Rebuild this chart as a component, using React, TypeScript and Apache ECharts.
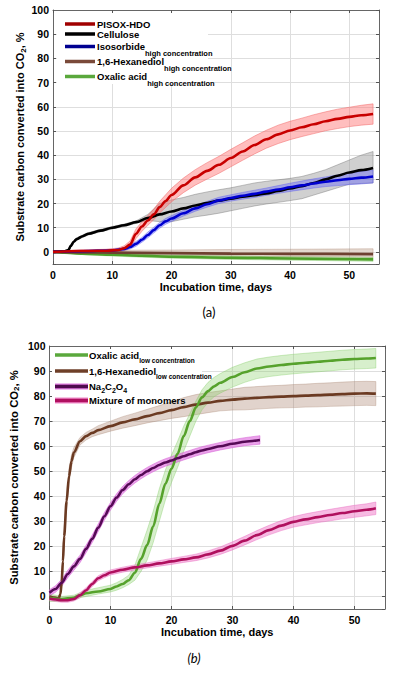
import React, { useEffect, useRef } from "react";
import * as echarts from "echarts";

// ---------------- Panel (a) data ----------------
const pisoxDays = [0,3,6,9,11,12,13,14,15,16,17,18,19,20,22,24,26,28,30,32,34,36,38,40,42,44,46,48,50,52,54];
const pisoxVals = [0,0.3,0.4,0.5,0.8,1.5,3,7.5,10.5,13,15.5,18.5,21,23.5,27.5,30.8,33.5,36,38.8,41.5,44.2,46.6,48.6,50.2,51.5,52.8,54,55,55.8,56.5,57];
const pisoxSpread = [0.3,0.4,0.5,0.6,0.8,1,1.5,2,2,2,2.2,2.4,2.6,2.8,3,3.2,3.4,3.5,3.6,3.6,3.7,3.7,3.8,3.8,3.8,3.9,3.9,4,4,4.1,4.2];

const celluloseDays = [0,2,2.6,3,3.5,4,5,6,8,10,12,14,16,18,20,22,24,26,28,30,32,34,36,38,40,42,44,46,48,50,52,54];
const celluloseVals = [0,0.3,0.8,2.5,4.2,5.3,6.5,7.5,8.8,10,11,12.3,14,15.5,16.7,18,19.2,20.2,21.2,22,22.8,23.4,24.2,25.2,26.2,27.2,28.5,30,31.5,32.8,33.8,34.7];
const celluloseLo = [-0.3,0,0.4,2,3.7,4.8,6,7,8.3,9.5,10.5,11.8,13,12.5,12.5,13.5,14.5,15.2,16,17,18,19,19.8,20.5,21.2,22,23.5,25,26.5,28,28.3,28.5];
const celluloseHi = [0.3,0.6,1.2,3,4.7,5.8,7,8,9.3,10.5,11.5,12.8,15.5,20,21.5,22.5,23.8,24.8,25.7,26.5,27.5,28.5,29.2,29.8,30.4,31.2,32.5,34,36,38,40,41.5];

const isosorbideDays = [0,5,10,12,13,14,15,16,17,18,19,20,22,24,26,28,30,32,34,36,38,40,42,44,46,48,50,52,54];
const isosorbideVals = [0,0.3,0.6,1.2,2,3.3,5,7,9,11,12.6,13.8,16,18,19.7,21.3,22.3,23.2,24,24.9,25.8,26.7,27.5,28.3,29,29.6,30.2,30.7,31.2];
const isosorbideSpread = [0.3,0.4,0.5,0.6,0.8,1,1,1.2,1.2,1.2,1.2,1.2,1.2,1.2,1.2,1.3,1.3,1.4,1.5,1.5,1.6,1.7,1.8,1.9,2,2.2,2.4,2.6,2.7];

const hexHighDays = [0,5,10,20,30,40,54];
const hexHighVals = [0,-0.2,-0.3,-0.5,-0.7,-0.8,-0.9];
const hexHighLo = [-0.3,-1,-1.3,-1.6,-1.8,-2,-2.2];
const hexHighHi = [0.3,0.5,0.7,0.8,1,1.1,1.3];

const oxHighDays = [0,2,5,10,15,20,30,40,54];
const oxHighVals = [0,-0.3,-0.7,-1.2,-1.6,-2,-2.4,-2.7,-3.1];
const oxHighSpread = [0.2,0.3,0.4,0.5,0.6,0.6,0.7,0.7,0.8];

// ---------------- Panel (b) data ----------------
const oxLowDays = [0,2,4,5,6,8,10,11,12,13,14,15,16,17,18,19,20,21,22,23,24,25,26,27,28,30,32,34,36,38,40,42,44,46,48,50,52,53.5];
const oxLowVals = [-0.5,-1,-0.5,0.5,1.3,2,3,4,5,6.5,9.5,15,20.5,28,37,45,51,57,64,70,75.5,79.5,82,83.9,85.3,87.6,89.5,91,91.8,92.4,92.9,93.3,93.7,94.1,94.5,94.8,95,95.2];
const oxLowLo = [-2,-2,-1.5,-0.5,0,1,1.8,2.5,3.5,4.8,6.5,10,14.5,21.5,30,38.5,45.5,51.5,58,64,70,74.5,77.5,79.8,81.2,83.6,85.5,87,87.8,88.4,88.9,89.3,89.7,90.1,90.5,90.8,91,91.2];
const oxLowHi = [1,0,0.5,1.5,2.5,3.5,4.5,5.5,6.8,8.5,12.5,19.5,26.5,34,43,50.5,56.5,62,68,73,78,82.5,85.5,87.5,89,91.5,93.3,94.8,95.6,96.2,96.7,97.1,97.5,97.9,98.3,98.6,98.8,99];

const hexLowDays = [0,1,1.5,1.8,2,2.2,2.4,2.8,3.2,3.6,4,5,6,7,8,10,12,14,16,18,20,22,24,26,28,30,32,34,36,38,40,42,44,46,48,50,52,53.5];
const hexLowVals = [0,-0.5,-0.8,1,6,14,24,38,48,54,57.5,62,64,65.3,66.4,68,69.5,70.7,72,73.2,74.4,75.6,76.6,77.4,78.1,78.6,79,79.3,79.6,79.8,80,80.2,80.4,80.6,80.8,81,81.1,81];
const hexLowSpread = [0.5,0.5,0.6,1,2,3,3,3,3,2.5,2,1.5,1.5,1.5,1.8,2,2.3,2.5,2.7,3,3.3,3.8,4,4,4,4.2,4.5,4.5,4.5,4.5,4.6,4.6,4.7,4.7,4.8,4.8,4.8,4.8];

const naDays = [0,1,2,3,4,5,6,7,8,9,10,11,12,13,14,15,16,17,18,19,20,21,22,23,24,25,26,28,30,32,34.5];
const naVals = [1.5,3,5.5,9,12,15,19,23,27.5,32,36,39.5,42.5,44.8,46.8,48.5,50,51.3,52.5,53.5,54.3,55.2,56,56.8,57.6,58.3,58.9,60,61,61.8,62.5];
const naSpread = [1.2,1.3,1.4,1.5,1.5,1.5,1.5,1.5,1.5,1.5,1.5,1.5,1.5,1.5,1.5,1.5,1.5,1.5,1.5,1.5,1.5,1.5,1.5,1.5,1.5,1.5,1.5,1.5,1.6,1.6,1.7];

const mixDays = [0,1,2,3,4,5,6,7,8,9,10,12,14,16,18,20,22,24,26,28,30,32,34,36,38,40,42,44,46,48,50,52,53.5];
const mixVals = [-0.8,-1.2,-1.5,-1.5,-1,0.5,2.5,5,7.3,8.5,9.6,10.7,11.6,12.4,13.2,14,14.8,15.6,16.8,18.3,20.2,22.3,24.5,26.5,28.3,29.8,30.8,31.7,32.5,33.3,34,34.6,35.2];
const mixSpread = [0.8,0.8,0.8,0.8,0.8,1,1,1,1,1,1,1,1,1,1.1,1.2,1.2,1.3,1.4,1.5,1.6,1.7,1.8,1.9,2,2.1,2.2,2.2,2.3,2.3,2.4,2.4,2.5];

// axis ticks
const xTicks = [0, 10, 20, 30, 40, 50];
const yTicks = [0, 10, 20, 30, 40, 50, 60, 70, 80, 90, 100];

// legends
const legendA = ["PISOX-HDO", "Cellulose", "Isosorbide", "1,6-Hexanediol", "Oxalic acid"];
const legendASub = ["", "", "high concentration", "high concentration", "high concentration"];
const legendB = ["Oxalic acid", "1,6-Hexanediol", "Na{n|2}C{n|2}O{n|4}", "Mixture of monomers"];
const legendBSub = ["low concentration", "low concentration", "", ""];

const FONT = "'Liberation Sans', Arial, sans-serif";

function pairs(days: number[], vals: number[]) {
  return days.map((d, i) => [d, vals[i]]);
}

function band(gi: number, days: number[], lo: number[], hi: number[], fill: string, stroke: string) {
  return {
    type: "custom",
    xAxisIndex: gi * 2,
    yAxisIndex: gi * 2,
    silent: true,
    clip: true,
    z: 2,
    data: [[days[0], lo[0]]],
    renderItem: (_p: any, api: any) => {
      const pts: number[][] = [];
      for (let i = 0; i < days.length; i++) pts.push(api.coord([days[i], hi[i]]));
      for (let i = days.length - 1; i >= 0; i--) pts.push(api.coord([days[i], lo[i]]));
      return { type: "polygon", shape: { points: pts }, style: { fill, stroke, lineWidth: 0.7 } };
    },
  };
}

function bandSym(gi: number, days: number[], vals: number[], spread: number[], fill: string, stroke: string) {
  return band(gi, days, vals.map((v, i) => v - spread[i]), vals.map((v, i) => v + spread[i]), fill, stroke);
}

function line(gi: number, days: number[], vals: number[], color: string, width = 2.6) {
  return {
    type: "line",
    xAxisIndex: gi * 2,
    yAxisIndex: gi * 2,
    data: pairs(days, vals),
    showSymbol: false,
    symbol: "none",
    smooth: 0.3,
    smoothMonotone: "x",
    z: 3,
    lineStyle: { color, width },
    silent: true,
  };
}

function xAxes(gi: number, name: string) {
  return [
    {
      type: "value",
      gridIndex: gi,
      min: 0,
      max: 55,
      interval: 10,
      z: 0,
      name,
      nameLocation: "middle",
      nameGap: 17,
      nameMoveOverlap: false,
      nameTextStyle: { fontFamily: FONT, fontWeight: "bold", fontSize: 11, color: "#000" },
      axisLine: { show: true, onZero: false, lineStyle: { color: "#666", width: 1 } },
      axisTick: { show: true, inside: true, length: 3, lineStyle: { color: "#555" } },
      axisLabel: {
        margin: 5,
        fontFamily: FONT,
        fontWeight: "bold",
        fontSize: 10.5,
        color: "#000",
        formatter: (v: number) => (xTicks.includes(v) ? String(v) : ""),
      },
      splitLine: { show: true, lineStyle: { color: "#dedede", width: 1 } },
    },
    {
      type: "value",
      gridIndex: gi,
      position: "top",
      min: 0,
      max: 55,
      interval: 10,
      z: 6,
      axisLine: { show: true, onZero: false, lineStyle: { color: "#666", width: 1 } },
      axisTick: { show: true, inside: true, length: 3, lineStyle: { color: "#555" } },
      axisLabel: { show: false },
      splitLine: { show: false },
    },
  ];
}

function yAxes(gi: number, nameGap: number, fontSize: number) {
  return [
    {
      type: "value",
      gridIndex: gi,
      min: -5,
      max: 100,
      splitNumber: 10,
      z: 0,
      name: "Substrate carbon converted into CO{s|2}, %",
      nameLocation: "middle",
      nameGap,
      nameMoveOverlap: false,
      nameTextStyle: {
        fontFamily: FONT,
        fontWeight: "bold",
        fontSize,
        color: "#000",
        rich: { s: { fontFamily: FONT, fontWeight: "bold", fontSize: 8, color: "#000", padding: [6, 0, 0, 0] } },
      },
      axisLine: { show: true, onZero: false, lineStyle: { color: "#666", width: 1 } },
      axisTick: { show: true, inside: true, length: 3, lineStyle: { color: "#555" } },
      axisLabel: {
        margin: 4,
        fontFamily: FONT,
        fontWeight: "bold",
        fontSize: 10.5,
        color: "#000",
        formatter: (v: number) => (yTicks.includes(v) ? String(v) : ""),
      },
      splitLine: { show: true, lineStyle: { color: "#dedede", width: 1 } },
    },
    {
      type: "value",
      gridIndex: gi,
      position: "right",
      min: -5,
      max: 100,
      splitNumber: 10,
      z: 6,
      axisLine: { show: true, onZero: false, lineStyle: { color: "#666", width: 1 } },
      axisTick: { show: true, inside: true, length: 3, lineStyle: { color: "#555" } },
      axisLabel: { show: false },
      splitLine: { show: false },
    },
  ];
}

function legendGraphics(
  names: string[],
  subs: string[],
  colors: string[],
  halos: (string | null)[],
  x1: number,
  x2: number,
  tx: number,
  ys: number[],
  fontSize: number,
  subSize: number,
  subDrop: number
) {
  const els: any[] = [];
  names.forEach((n, i) => {
    if (halos[i]) {
      els.push({
        type: "line",
        z: 10,
        shape: { x1, y1: ys[i], x2, y2: ys[i] },
        style: { stroke: halos[i], lineWidth: 6 },
        silent: true,
      });
    }
    els.push({
      type: "line",
      z: 11,
      shape: { x1, y1: ys[i], x2, y2: ys[i] },
      style: { stroke: colors[i], lineWidth: 3.5 },
      silent: true,
    });
    els.push({
      type: "text",
      z: 11,
      x: tx,
      y: ys[i],
      silent: true,
      style: {
        text: subs[i] ? n + "{s|" + subs[i] + "}" : n,
        fontFamily: FONT,
        fontWeight: "bold",
        fontSize,
        fill: "#000",
        verticalAlign: "middle",
        align: "left",
        rich: {
          s: { fontFamily: FONT, fontWeight: "bold", fontSize: subSize, fill: "#000", padding: [subDrop * 2, 0, 0, 0] },
          n: { fontFamily: FONT, fontWeight: "bold", fontSize: 7, fill: "#000", padding: [7, 0, 0, 0] },
        },
      },
    });
  });
  return els;
}

export default function App() {
  const ref = useRef<HTMLDivElement>(null);
  useEffect(() => {
    if (!ref.current) return;
    const chart = echarts.init(ref.current, null, { renderer: "svg" });
    const option: any = {
      animation: false,
      backgroundColor: "#ffffff",
      grid: [
        { left: 53, top: 10, width: 326, height: 254 },
        { left: 48, top: 346, width: 337, height: 263 },
      ],
      xAxis: [...xAxes(0, "Incubation time, days"), ...xAxes(1, "Incubation time, days")],
      yAxis: [...yAxes(0, 26, 11), ...yAxes(1, 29, 11.3)],
      series: [
        // panel a bands
        band(0, celluloseDays, celluloseLo, celluloseHi, "rgba(150,150,150,0.45)", "rgba(110,110,110,0.6)"),
        bandSym(0, pisoxDays, pisoxVals, pisoxSpread, "rgba(255,110,110,0.45)", "rgba(240,100,100,0.7)"),
        bandSym(0, isosorbideDays, isosorbideVals, isosorbideSpread, "rgba(90,90,255,0.4)", "rgba(90,90,240,0.6)"),
        band(0, hexHighDays, hexHighLo, hexHighHi, "rgba(175,140,115,0.35)", "rgba(170,130,110,0.5)"),
        bandSym(0, oxHighDays, oxHighVals, oxHighSpread, "rgba(120,200,90,0.4)", "rgba(110,190,80,0.5)"),
        // panel a lines
        line(0, oxHighDays, oxHighVals, "#4ea02a"),
        line(0, hexHighDays, hexHighVals, "#6e4030"),
        line(0, celluloseDays, celluloseVals, "#000000"),
        line(0, isosorbideDays, isosorbideVals, "#0000d0"),
        line(0, pisoxDays, pisoxVals, "#c80000"),
        // panel b bands
        bandSym(1, hexLowDays, hexLowVals, hexLowSpread, "rgba(170,130,110,0.35)", "rgba(160,120,100,0.45)"),
        band(1, oxLowDays, oxLowLo, oxLowHi, "rgba(140,210,110,0.35)", "rgba(120,200,90,0.5)"),
        bandSym(1, mixDays, mixVals, mixSpread, "rgba(240,120,200,0.5)", "rgba(230,100,190,0.6)"),
        bandSym(1, naDays, naVals, naSpread, "rgba(225,110,225,0.65)", "rgba(210,90,210,0.7)"),
        // panel b lines
        line(1, hexLowDays, hexLowVals, "#6b3a22"),
        line(1, oxLowDays, oxLowVals, "#56a22c"),
        line(1, mixDays, mixVals, "#b0105e"),
        line(1, naDays, naVals, "#560a56"),
      ],
      graphic: [
        { type: "rect", z: 1, silent: true, shape: { x: 57, y: 13, width: 151, height: 71 }, style: { fill: "#ffffff" } },
        { type: "rect", z: 1, silent: true, shape: { x: 52, y: 348, width: 150, height: 60 }, style: { fill: "#ffffff" } },
        ...legendGraphics(
          legendA,
          legendASub,
          ["#a00000", "#000000", "#000090", "#7a4a3a", "#5aa83c"],
          [null, null, null, null, null],
          65,
          95,
          97,
          [24, 34, 46.5, 61.5, 76.5],
          9.5,
          7.5,
          6.5
        ),
        ...legendGraphics(
          legendB,
          legendBSub,
          ["#5aa83c", "#6e3f28", "#4e0a4e", "#b01060"],
          [null, null, "#e07ae0", "#f08ac8"],
          55,
          88,
          89,
          [355, 371, 386.5, 400.5],
          9.5,
          6.5,
          5
        ),
        {
          type: "text",
          x: 209,
          y: 312,
          silent: true,
          style: { text: "(a)", fontFamily: "Lato, 'Open Sans', sans-serif", fontSize: 13, fill: "#000", align: "center", verticalAlign: "middle" },
        },
        {
          type: "text",
          x: 194,
          y: 658,
          silent: true,
          style: { text: "(b)", fontFamily: "Lato, 'Open Sans', sans-serif", fontStyle: "italic", fontSize: 13, fill: "#000", align: "center", verticalAlign: "middle" },
        },
      ],
    };
    chart.setOption(option);
    return () => chart.dispose();
  }, []);
  return <div ref={ref} style={{ position: "absolute", left: 0, top: 0, width: 397, height: 674, background: "#fff" }} />;
}
